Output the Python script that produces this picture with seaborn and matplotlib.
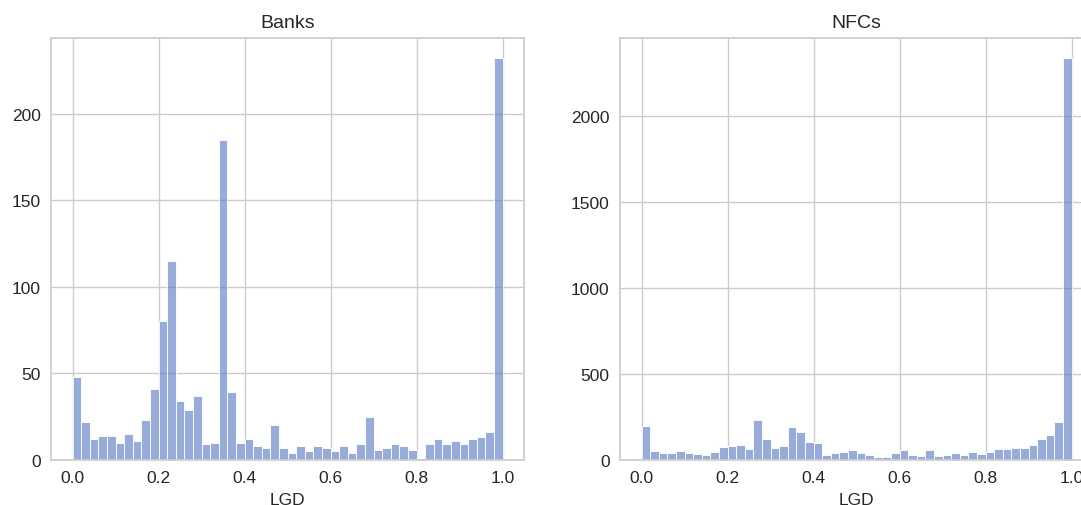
import numpy as np
import pandas as pd
import matplotlib
matplotlib.use("Agg")
import matplotlib.pyplot as plt
import seaborn as sns

# 50 equal-width LGD bins on [0, 1]
n_bins = 50
bin_centers = (np.arange(n_bins) + 0.5) / n_bins

banks_counts = [48, 22, 12, 14, 14, 10, 15, 11, 23, 41,
                80, 115, 34, 29, 37, 9, 10, 185, 39, 10,
                12, 8, 7, 20, 7, 4, 8, 5, 8, 7,
                5, 8, 4, 9, 25, 6, 7, 9, 8, 6,
                1, 9, 12, 9, 11, 9, 12, 13, 16, 232]

nfc_counts = [200, 54, 42, 42, 52, 38, 36, 28, 48, 75,
              79, 85, 65, 231, 120, 69, 83, 192, 163, 106,
              100, 32, 42, 48, 56, 42, 32, 17, 17, 40,
              56, 28, 24, 56, 24, 32, 38, 28, 46, 36,
              46, 63, 63, 69, 69, 85, 120, 145, 221, 2340]

titles = ["Banks", "NFCs"]
x_label = "LGD"

sns.set_theme(style="whitegrid")
plt.rcParams["font.family"] = ["Liberation Sans", "DejaVu Sans"]
plt.rcParams.update({
    "xtick.labelsize": 12.5,
    "ytick.labelsize": 12.5,
    "axes.titlesize": 14,
    "axes.labelsize": 12.5,
    "xtick.major.pad": 1.5,
    "ytick.major.pad": 1.5,
    "text.color": "#262626",
})

fig = plt.figure(figsize=(10.81, 5.06), dpi=100)
ax1 = fig.add_axes([51.2 / 1081, 1 - 461 / 506, (524 - 51.2) / 1081, (461 - 39) / 506])
ax2 = fig.add_axes([620 / 1081, 1 - 461 / 506, (1093 - 620) / 1081, (461 - 39) / 506])

for ax, counts, title in zip([ax1, ax2], [banks_counts, nfc_counts], titles):
    df = pd.DataFrame({"LGD": bin_centers, "n": counts})
    sns.histplot(data=df, x="LGD", weights="n", bins=n_bins, binrange=(0, 1),
                 ax=ax, color="#5376c0", alpha=0.6)
    ax.set_title(title, pad=8)
    ax.set_ylabel("")
    ax.set_xlabel(x_label, labelpad=4.5)

fig.savefig("out.png", dpi=100)
